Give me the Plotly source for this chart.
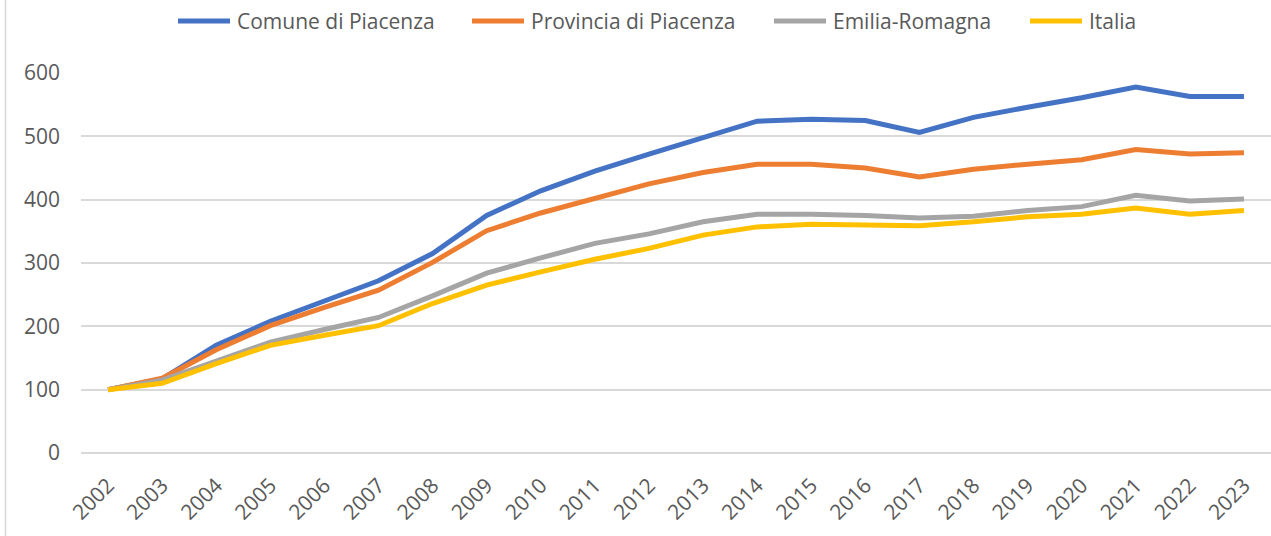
import plotly.graph_objects as go

years = [str(y) for y in range(2002, 2024)]
comune = [100, 117, 170, 208, 240, 272, 315, 375, 414, 445, 472, 498,
          524, 527, 525, 506, 530, 546, 561, 578, 563, 563]
provincia = [100, 118, 163, 201, 230, 257, 301, 351, 379, 403, 425, 443,
             456, 456, 450, 436, 448, 456, 463, 479, 472, 474]
emilia = [100, 115, 145, 175, 195, 214, 248, 284, 308, 331, 346, 365,
          377, 377, 375, 371, 374, 383, 389, 407, 398, 401]
italia = [100, 110, 141, 170, 186, 201, 236, 265, 286, 306, 323, 344,
          357, 361, 360, 359, 365, 373, 377, 387, 377, 383]

names = ["Comune di Piacenza", "Provincia di Piacenza", "Emilia-Romagna", "Italia"]
values = [comune, provincia, emilia, italia]
colors = ["#4472C4", "#ED7D31", "#A5A5A5", "#FFC000"]

FONT = "Open Sans"
TXT = "#595959"
GRID = "#D9D9D9"

W, H = 1271, 536
ML, MR, MT, MB = 81, 0, 73, 83
PW, PH = W - ML - MR, H - MT - MB


def px_x(px):
    return (px - ML) / PW


def px_y(py):
    return 1 - (py - MT) / PH


fig = go.Figure()
for name, vals, col in zip(names, values, colors):
    fig.add_trace(go.Scatter(
        x=years, y=vals, name=name, mode="lines",
        line=dict(color=col, width=5),
        showlegend=False,
    ))

# legend drawn in the Excel style (long line samples)
legend_x = [176, 470, 772, 1028]
legend_y = 21
shapes = []
annotations = []
for name, col, lx in zip(names, colors, legend_x):
    shapes.append(dict(
        type="line", xref="paper", yref="paper",
        x0=px_x(lx + 2), x1=px_x(lx + 54), y0=px_y(legend_y), y1=px_y(legend_y),
        line=dict(color=col, width=5),
    ))
    annotations.append(dict(
        text=name, xref="paper", yref="paper",
        x=px_x(lx + 59), y=px_y(legend_y),
        xanchor="left", yanchor="middle", showarrow=False,
        font=dict(family=FONT, size=21, color=TXT),
    ))

# chart-area border on the left
shapes.append(dict(
    type="line", xref="paper", yref="paper",
    x0=px_x(5.5), x1=px_x(5.5), y0=px_y(H), y1=px_y(0),
    line=dict(color=GRID, width=1.5),
))

fig.update_layout(
    width=W, height=H,
    paper_bgcolor="white", plot_bgcolor="white",
    margin=dict(l=ML, r=MR, t=MT, b=MB, autoexpand=False),
    font=dict(family=FONT, size=21, color=TXT),
    showlegend=False,
    xaxis=dict(
        type="category", range=[-0.5, 21.5], automargin=False,
        showgrid=False, zeroline=False, showline=False,
        tickangle=-45, ticks="", ticklabelstandoff=15,
        tickfont=dict(family=FONT, size=21, color=TXT),
    ),
    yaxis=dict(
        range=[0, 600], dtick=100, tick0=0, automargin=False,
        showgrid=True, gridcolor=GRID, gridwidth=1.5,
        zeroline=True, zerolinecolor=GRID, zerolinewidth=1.5,
        showline=False, ticks="", ticklabelstandoff=20,
        tickfont=dict(family=FONT, size=21, color=TXT),
    ),
    shapes=shapes,
    annotations=annotations,
)

fig.write_html(
    "out.html",
    config={"displayModeBar": False},
    post_script="document.body.style.margin='0';document.body.style.overflow='hidden';",
)
